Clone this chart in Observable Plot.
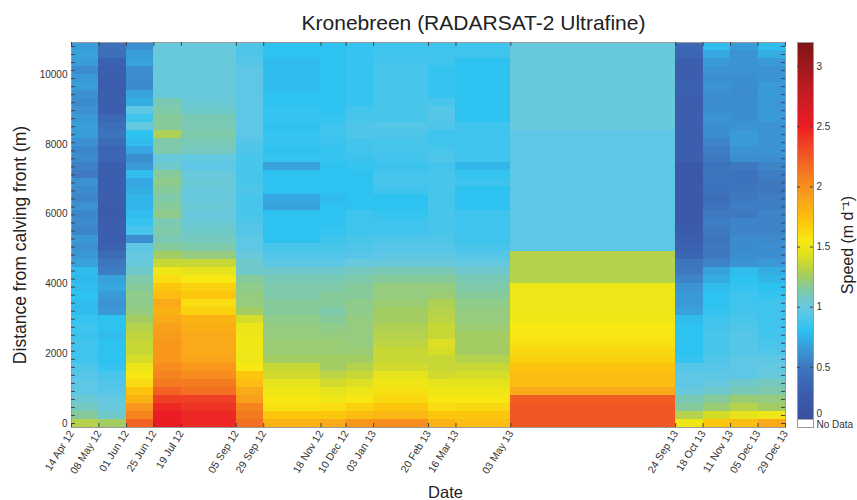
<!DOCTYPE html>
<html><head><meta charset="utf-8">
<script src="https://cdn.jsdelivr.net/npm/d3@7"></script>
<script src="https://cdn.jsdelivr.net/npm/@observablehq/plot@0.6"></script>
<style>
body{margin:0;background:#fff;}
#wrap{position:relative;width:857px;height:500px;}
#wrap svg{position:absolute;left:0;top:0;}
#wrap svg rect{shape-rendering:crispEdges;}
</style></head><body><div id="wrap"></div>
<script>
// Acquisition dates (column boundaries / tick labels)
const dateLabels = ["14 Apr 12","08 May 12","01 Jun 12","25 Jun 12","19 Jul 12","05 Sep 12","29 Sep 12","18 Nov 12","10 Dec 12","03 Jan 13","20 Feb 13","16 Mar 13","03 May 13","24 Sep 13","18 Oct 13","11 Nov 13","05 Dec 13","29 Dec 13"];
// Distance of each row centre from the calving front (m)
const distances = [0,230,460,690,920,1150,1380,1610,1840,2070,2300,2530,2760,2990,3220,3450,3680,3910,4140,4370,4600,4830,5060,5290,5520,5750,5980,6210,6440,6670,6900,7130,7360,7590,7820,8050,8280,8510,8740,8970,9200,9430,9660,9890,10120,10350,10580,10810];
const yTickValues = [0,2000,4000,6000,8000,10000];
// Speed (m/d) per column, from the front (0 m) upward
const s01 = [1.3,1.15,1.08,1.02,0.95,0.95,0.92,0.9,0.85,0.85,0.86,0.84,0.85,0.82,0.78,0.78,0.8,0.78,0.77,0.78,0.68,0.64,0.61,0.64,0.56,0.58,0.56,0.61,0.56,0.58,0.61,0.51,0.54,0.58,0.56,0.61,0.66,0.66,0.64,0.61,0.58,0.61,0.66,0.64,0.58,0.66,0.68,0.66];
const s02 = [1.25,1.05,1.0,0.98,0.92,0.9,0.88,0.82,0.8,0.8,0.8,0.78,0.8,0.8,0.64,0.62,0.65,0.7,0.68,0.52,0.48,0.4,0.32,0.3,0.3,0.28,0.25,0.25,0.28,0.3,0.3,0.28,0.3,0.35,0.35,0.4,0.45,0.42,0.38,0.3,0.28,0.28,0.26,0.28,0.3,0.32,0.42,0.44];
const s03 = [2.2,2.05,1.95,1.8,1.72,1.6,1.55,1.48,1.4,1.35,1.35,1.33,1.3,1.25,1.2,1.18,1.18,1.15,1.12,1.05,1.0,0.98,0.95,0.6,0.88,0.82,0.78,0.75,0.75,0.72,0.7,0.78,0.65,0.6,0.7,0.78,0.8,0.98,0.85,0.95,0.72,0.68,0.58,0.58,0.6,0.68,0.66,0.6];
const s04 = [2.5,2.5,2.45,2.35,2.2,2.1,2.05,2.0,1.95,1.95,1.95,1.92,1.9,1.85,1.8,1.85,1.75,1.7,1.6,1.5,1.35,1.25,1.15,1.1,1.12,1.1,1.18,1.15,1.12,1.15,1.18,1.15,1.05,1.0,1.12,1.12,1.28,1.15,1.15,1.12,1.1,1.0,1.0,1.0,1.0,1.0,1.0,1.0];
const s05 = [2.45,2.45,2.4,2.35,2.15,2.1,2.0,1.95,1.88,1.85,1.85,1.85,1.82,1.8,1.65,1.6,1.7,1.65,1.55,1.45,1.35,1.2,1.12,1.08,1.05,1.02,1.0,1.02,1.0,1.0,1.02,1.0,0.95,0.98,1.08,1.1,1.12,1.1,1.1,1.05,1.02,1.0,1.0,1.0,1.0,1.0,1.0,1.0];
const s06 = [2.15,2.1,2.05,1.9,1.85,1.75,1.7,1.55,1.5,1.5,1.52,1.5,1.48,1.4,1.25,1.2,1.2,1.18,1.15,1.05,1.05,1.0,0.95,0.95,0.92,0.9,0.88,0.88,0.88,0.9,0.88,0.88,0.88,0.88,0.9,0.92,0.95,0.95,0.95,0.95,0.95,0.95,0.95,0.95,0.95,0.92,0.9,0.9];
const s07 = [1.8,1.7,1.58,1.55,1.5,1.45,1.38,1.35,1.25,1.22,1.22,1.2,1.2,1.18,1.15,1.15,1.12,1.12,1.1,1.05,0.95,0.9,0.88,0.8,0.8,0.8,0.8,0.68,0.7,0.8,0.8,0.8,0.68,0.82,0.8,0.82,0.82,0.8,0.82,0.82,0.8,0.8,0.78,0.78,0.78,0.78,0.8,0.8];
const s08 = [1.85,1.7,1.6,1.5,1.45,1.38,1.32,1.25,1.25,1.22,1.22,1.2,1.18,1.15,1.12,1.15,1.15,1.12,1.1,1.05,0.95,0.9,0.88,0.85,0.82,0.8,0.8,0.8,0.78,0.8,0.8,0.8,0.8,0.82,0.82,0.84,0.85,0.85,0.82,0.8,0.8,0.8,0.8,0.8,0.8,0.8,0.8,0.8];
const s09 = [1.95,1.75,1.65,1.55,1.48,1.42,1.35,1.3,1.25,1.22,1.2,1.2,1.2,1.2,1.18,1.18,1.15,1.15,1.12,1.08,1.0,0.92,0.9,0.88,0.85,0.85,0.85,0.8,0.8,0.8,0.8,0.8,0.82,0.84,0.86,0.86,0.9,0.9,0.88,0.86,0.82,0.82,0.82,0.82,0.82,0.82,0.82,0.82];
const s10 = [2.0,1.78,1.7,1.62,1.58,1.5,1.45,1.38,1.35,1.35,1.32,1.3,1.28,1.25,1.25,1.22,1.2,1.2,1.15,1.1,1.0,0.95,0.92,0.9,0.85,0.85,0.82,0.8,0.8,0.85,0.88,0.86,0.84,0.86,0.88,0.88,0.9,0.92,0.88,0.88,0.88,0.88,0.88,0.88,0.88,0.86,0.85,0.85];
const s11 = [1.8,1.7,1.6,1.55,1.5,1.45,1.38,1.35,1.35,1.4,1.42,1.35,1.35,1.32,1.3,1.28,1.22,1.2,1.15,1.1,1.0,0.95,0.92,0.9,0.88,0.88,0.88,0.88,0.88,0.88,0.88,0.88,0.86,0.9,0.88,0.85,0.85,0.9,0.92,0.92,0.88,0.82,0.82,0.82,0.82,0.85,0.85,0.85];
const s12 = [1.75,1.7,1.62,1.55,1.5,1.45,1.4,1.35,1.3,1.25,1.25,1.25,1.22,1.2,1.2,1.18,1.15,1.12,1.1,1.05,0.98,0.92,0.88,0.85,0.85,0.85,0.85,0.8,0.8,0.8,0.85,0.82,0.76,0.85,0.85,0.85,0.85,0.85,0.8,0.8,0.8,0.8,0.8,0.8,0.8,0.8,0.85,0.85];
const s13 = [2.25,2.25,2.25,2.22,1.85,1.75,1.75,1.72,1.65,1.62,1.58,1.56,1.55,1.52,1.5,1.5,1.5,1.5,1.3,1.3,1.3,1.3,0.95,0.95,0.95,0.95,0.95,0.95,0.95,0.95,0.95,0.95,0.95,0.95,0.95,0.95,0.95,1.0,1.0,1.0,1.0,1.0,1.0,1.0,1.0,1.0,1.0,1.0];
const s14 = [1.5,1.3,1.15,1.1,1.0,0.95,0.95,0.92,0.82,0.8,0.8,0.8,0.8,0.78,0.68,0.65,0.65,0.62,0.55,0.5,0.48,0.35,0.32,0.3,0.25,0.22,0.22,0.2,0.2,0.22,0.2,0.2,0.22,0.28,0.3,0.28,0.28,0.3,0.3,0.28,0.3,0.3,0.32,0.3,0.28,0.3,0.35,0.38];
const s15 = [1.7,1.4,1.22,1.15,1.05,0.98,0.95,0.92,0.9,0.88,0.88,0.88,0.86,0.85,0.82,0.8,0.8,0.78,0.72,0.68,0.55,0.5,0.5,0.48,0.5,0.52,0.5,0.45,0.42,0.45,0.45,0.48,0.45,0.5,0.52,0.55,0.6,0.6,0.62,0.6,0.58,0.6,0.62,0.6,0.62,0.65,0.7,0.78];
const s16 = [1.75,1.45,1.3,1.22,1.1,1.05,0.95,0.95,0.95,0.92,0.92,0.92,0.9,0.88,0.86,0.85,0.85,0.82,0.8,0.78,0.62,0.6,0.58,0.58,0.55,0.55,0.5,0.52,0.5,0.48,0.45,0.45,0.5,0.6,0.62,0.65,0.65,0.62,0.6,0.6,0.6,0.58,0.6,0.6,0.62,0.62,0.62,0.65];
const s17 = [1.85,1.5,1.25,1.2,1.12,1.08,1.0,0.98,0.95,0.9,0.88,0.86,0.85,0.85,0.85,0.85,0.82,0.8,0.75,0.72,0.65,0.6,0.6,0.58,0.55,0.55,0.55,0.52,0.52,0.5,0.5,0.52,0.55,0.6,0.62,0.62,0.62,0.62,0.65,0.65,0.64,0.65,0.65,0.62,0.62,0.65,0.72,0.78];
const columns = [s01,s02,s03,s04,s05,s06,s07,s08,s09,s10,s11,s12,s13,s14,s15,s16,s17];
// Colour map stops (speed, colour)
const speedStops = [0,0.3,0.5,0.65,0.8,0.95,1.0,1.07,1.15,1.25,1.35,1.45,1.55,1.7,1.9,2.1,2.3,2.5,2.8,3.2];
const speedColors = ["#3a4a9c","#3b5fae","#3e79c0","#3a9ad8","#2ec2f0","#5fc7e6","#68c9dc","#72c9c4","#86ca9c","#a3cd62","#c6d736","#e6e31c","#f7e814","#fcc60d","#f9a01b","#f47a20","#f04c25","#ec1c24","#c01c22","#7c1416"];
const cbTickValues = [0.5,1,1.5,2,2.5,3];
const noDataTop = 0.06;

const parse = d3.utcParse("%d %b %y");
const dates = dateLabels.map(parse);
const half = (distances[1] - distances[0]) / 2;
const cells = [];
columns.forEach((col, c) => col.forEach((v, i) => cells.push({x1: dates[c], x2: dates[c + 1], y1: distances[i] - half, y2: distances[i] + half, speed: v})));
const yDomain = [distances[0] - half, distances[distances.length - 1] + half];
const colorOpts = {type: "linear", domain: speedStops, range: speedColors, interpolate: "rgb", clamp: true};
const font = "Liberation Sans, Arial, sans-serif";
const x0 = dates[0], x1 = dates[dates.length - 1];

const main = Plot.plot({
  width: 857, height: 500,
  marginLeft: 71, marginRight: 72, marginTop: 42, marginBottom: 73,
  style: {fontFamily: font, fontSize: "10px", color: "#333", background: "transparent"},
  x: {type: "utc", domain: [x0, x1]},
  y: {domain: yDomain},
  color: colorOpts,
  marks: [
    Plot.rect(cells, {x1: "x1", x2: "x2", y1: "y1", y2: "y2", fill: "speed"}),
    Plot.frame({stroke: "#9a9a9a"}),
    Plot.ruleY(distances, {y: d => d, x1: () => x0, x2: () => x0, insetRight: -4, stroke: "#444"}),
    Plot.ruleY(distances, {y: d => d, x1: () => x1, x2: () => x1, insetLeft: -4, stroke: "#444"}),
    Plot.ruleX(dates, {x: d => d, y1: () => yDomain[0], y2: () => yDomain[0], insetTop: -4, stroke: "#444"}),
    Plot.ruleX(dates, {x: d => d, y1: () => yDomain[1], y2: () => yDomain[1], insetBottom: -4, stroke: "#444"}),
    Plot.axisY({ticks: yTickValues, tickSize: 0, tickPadding: 4, label: null, tickFormat: d => String(d), fill: "#333"}),
    Plot.axisX({ticks: dates, tickSize: 0, tickPadding: 4, tickRotate: -58, label: null, tickFormat: d3.utcFormat("%d %b %y"), fill: "#333", fontSize: 10.5}),
    Plot.text(["Kronebreen (RADARSAT-2 Ultrafine)"], {frameAnchor: "top", dx: 45, dy: -13, lineAnchor: "bottom", fontSize: 21, fill: "#222"}),
    Plot.text(["Distance from calving front (m)"], {frameAnchor: "left", textAnchor: "middle", dx: -46, dy: 10, rotate: -90, lineAnchor: "bottom", fontSize: 17.5, fill: "#222"}),
    Plot.text(["Date"], {frameAnchor: "bottom", dx: 17, dy: 70, lineAnchor: "bottom", fontSize: 16.5, fill: "#222"}),
    Plot.text(["Speed (m d⁻¹)"], {frameAnchor: "right", textAnchor: "middle", dx: 67, dy: 10, rotate: -90, lineAnchor: "bottom", fontSize: 16, fill: "#222"})
  ]
});

const ramp = d3.range(noDataTop, speedStops[speedStops.length - 1], 0.01);
const cbar = Plot.plot({
  width: 857, height: 500,
  marginLeft: 797, marginRight: 44, marginTop: 42, marginBottom: 73,
  style: {fontFamily: font, fontSize: "10px", color: "#333", background: "transparent"},
  x: {domain: [0, 1], axis: null},
  y: {domain: [0, speedStops[speedStops.length - 1]], axis: null},
  color: colorOpts,
  marks: [
    Plot.rect(ramp, {x1: () => 0, x2: () => 1, y1: d => d, y2: d => Math.min(d + 0.011, 3.2), fill: d => d}),
    Plot.rect([0], {x1: () => 0, x2: () => 1, y1: () => 0, y2: () => noDataTop, fill: "white", stroke: "#aaa"}),
    Plot.frame({stroke: "#9a9a9a"}),
    Plot.ruleY(cbTickValues, {y: d => d, x1: () => 0, x2: () => 0, insetRight: -3, stroke: "#444"}),
    Plot.ruleY(cbTickValues, {y: d => d, x1: () => 1, x2: () => 1, insetLeft: -3, stroke: "#444"}),
    Plot.text(cbTickValues, {x: () => 1, y: d => d, text: d => String(d), textAnchor: "start", dx: 3, fill: "#333"}),
    Plot.text(["0"], {x: () => 1, y: () => 0, textAnchor: "start", dx: 3, dy: -14, fill: "#333"}),
    Plot.text(["No Data"], {x: () => 1, y: () => 0, textAnchor: "start", dx: 3, dy: -3, fill: "#333"})
  ]
});

const wrap = document.getElementById("wrap");
wrap.appendChild(main);
wrap.appendChild(cbar);
</script></body></html>
